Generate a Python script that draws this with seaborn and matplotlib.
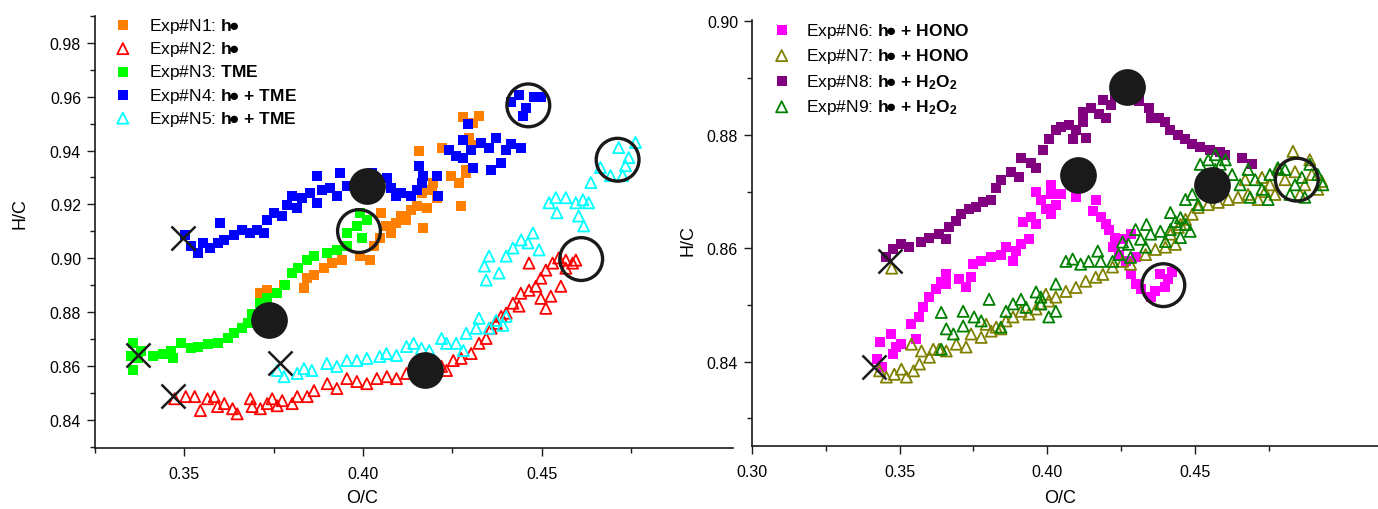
import matplotlib
matplotlib.use("Agg")
import matplotlib.pyplot as plt
import seaborn as sns
from matplotlib.ticker import FixedLocator, FormatStrFormatter

# ── Left panel data (O/C, H/C) ───────────────────────────────────────────────
n1_x = [0.3713, 0.3732, 0.3780, 0.3835, 0.3863, 0.3844, 0.3891, 0.3913, 0.3941, 0.3991,
        0.4019, 0.4030, 0.4047, 0.4066, 0.4052, 0.4080, 0.4094, 0.4108, 0.4122, 0.4136,
        0.4150, 0.4164, 0.4178, 0.4169, 0.4192, 0.4158, 0.4197, 0.4208, 0.4220, 0.4247,
        0.4270, 0.4289, 0.4275, 0.4281, 0.4309, 0.4325, 0.4298, 0.4303, 0.4281, 0.4289]
n1_y = [0.8870, 0.8881, 0.8900, 0.8889, 0.8937, 0.8926, 0.8963, 0.8982, 0.8993, 0.9008,
        0.8993, 0.9046, 0.9075, 0.9120, 0.9169, 0.9094, 0.9131, 0.9157, 0.9143, 0.9180,
        0.9195, 0.9243, 0.9187, 0.9113, 0.9254, 0.9400, 0.9281, 0.9225, 0.9411, 0.9307,
        0.9281, 0.9329, 0.9195, 0.9523, 0.9504, 0.9530, 0.9448, 0.9419, 0.9374, 0.9318]

n2_x = [0.3473, 0.3504, 0.3529, 0.3565, 0.3584, 0.3545, 0.3593, 0.3612, 0.3635, 0.3648,
        0.3685, 0.3690, 0.3713, 0.3732, 0.3746, 0.3760, 0.3774, 0.3802, 0.3816, 0.3844,
        0.3863, 0.3900, 0.3927, 0.3955, 0.3983, 0.4011, 0.4039, 0.4067, 0.4094, 0.4122,
        0.4150, 0.4220, 0.4234, 0.4253, 0.4275, 0.4303, 0.4325, 0.4345, 0.4359, 0.4373,
        0.4387, 0.4401, 0.4420, 0.4437, 0.4442, 0.4465, 0.4484, 0.4498, 0.4512, 0.4531,
        0.4548, 0.4568, 0.4568, 0.4596, 0.4465, 0.4498, 0.4512, 0.4526, 0.4554, 0.4587]
n2_y = [0.8478, 0.8486, 0.8486, 0.8478, 0.8486, 0.8434, 0.8449, 0.8460, 0.8441, 0.8422,
        0.8478, 0.8449, 0.8441, 0.8460, 0.8478, 0.8452, 0.8471, 0.8460, 0.8486, 0.8486,
        0.8508, 0.8534, 0.8516, 0.8553, 0.8542, 0.8534, 0.8553, 0.8560, 0.8553, 0.8572,
        0.8583, 0.8598, 0.8583, 0.8620, 0.8628, 0.8646, 0.8684, 0.8702, 0.8740, 0.8758,
        0.8784, 0.8796, 0.8833, 0.8822, 0.8870, 0.8881, 0.8896, 0.8926, 0.8956, 0.8982,
        0.9001, 0.8993, 0.8963, 0.8993, 0.8982, 0.8851, 0.8814, 0.8859, 0.8896, 0.8982]

n3_x = [0.3356, 0.3370, 0.3356, 0.3378, 0.3350, 0.3412, 0.3440, 0.3462, 0.3467, 0.3490,
        0.3518, 0.3537, 0.3565, 0.3593, 0.3621, 0.3640, 0.3662, 0.3679, 0.3690, 0.3713,
        0.3732, 0.3760, 0.3782, 0.3802, 0.3818, 0.3843, 0.3863, 0.3899, 0.3927, 0.3955,
        0.3955, 0.3983, 0.3997, 0.4011, 0.3991]
n3_y = [0.8684, 0.8628, 0.8583, 0.8657, 0.8635, 0.8635, 0.8643, 0.8657, 0.8628, 0.8684,
        0.8665, 0.8672, 0.8680, 0.8684, 0.8702, 0.8721, 0.8740, 0.8758, 0.8792, 0.8833,
        0.8851, 0.8870, 0.8900, 0.8945, 0.8963, 0.8993, 0.9008, 0.9019, 0.9031, 0.9046,
        0.9094, 0.9120, 0.9075, 0.9143, 0.9169]

n4_x = [0.3501, 0.3518, 0.3537, 0.3551, 0.3573, 0.3593, 0.3612, 0.3601, 0.3640, 0.3662,
        0.3685, 0.3704, 0.3724, 0.3732, 0.3752, 0.3774, 0.3788, 0.3802, 0.3816, 0.3830,
        0.3852, 0.3871, 0.3885, 0.3871, 0.3908, 0.3927, 0.3955, 0.3936, 0.4025, 0.4067,
        0.4080, 0.4094, 0.4108, 0.4136, 0.4150, 0.4158, 0.4169, 0.4164, 0.4206, 0.4209,
        0.4242, 0.4261, 0.4281, 0.4303, 0.4309, 0.4281, 0.4295, 0.4331, 0.4353, 0.4373,
        0.4401, 0.4415, 0.4387, 0.4443, 0.4359, 0.4415, 0.4437, 0.4456, 0.4479, 0.4498,
        0.4448]
n4_y = [0.9087, 0.9046, 0.9019, 0.9057, 0.9038, 0.9057, 0.9068, 0.9131, 0.9087, 0.9105,
        0.9094, 0.9105, 0.9094, 0.9143, 0.9169, 0.9157, 0.9199, 0.9232, 0.9187, 0.9225,
        0.9243, 0.9206, 0.9254, 0.9307, 0.9262, 0.9232, 0.9269, 0.9318, 0.9318, 0.9299,
        0.9262, 0.9232, 0.9243, 0.9232, 0.9254, 0.9344, 0.9307, 0.9281, 0.9307, 0.9232,
        0.9404, 0.9381, 0.9374, 0.9404, 0.9337, 0.9441, 0.9497, 0.9430, 0.9411, 0.9448,
        0.9404, 0.9426, 0.9355, 0.9411, 0.9329, 0.9579, 0.9605, 0.9560, 0.9598, 0.9598,
        0.9530]

n5_x = [0.3760, 0.3779, 0.3816, 0.3835, 0.3857, 0.3899, 0.3927, 0.3955, 0.3983, 0.4011,
        0.4047, 0.4066, 0.4094, 0.4122, 0.4142, 0.4164, 0.4186, 0.4220, 0.4234, 0.4261,
        0.4289, 0.4317, 0.4325, 0.4281, 0.4353, 0.4373, 0.4392, 0.4401, 0.4340, 0.4345,
        0.4381, 0.4401, 0.4420, 0.4443, 0.4462, 0.4476, 0.4493, 0.4353, 0.4521, 0.4543,
        0.4568, 0.4596, 0.4616, 0.4632, 0.4604, 0.4618, 0.4540, 0.4638, 0.4665, 0.4693,
        0.4727, 0.4716, 0.4735, 0.4763, 0.4744]
n5_y = [0.8583, 0.8560, 0.8572, 0.8590, 0.8583, 0.8609, 0.8598, 0.8620, 0.8620, 0.8628,
        0.8635, 0.8646, 0.8639, 0.8672, 0.8684, 0.8665, 0.8657, 0.8702, 0.8684, 0.8684,
        0.8721, 0.8740, 0.8777, 0.8657, 0.8740, 0.8769, 0.8751, 0.8784, 0.8971, 0.8919,
        0.8945, 0.9008, 0.9038, 0.9068, 0.9057, 0.9094, 0.9031, 0.9008, 0.9206, 0.9169,
        0.9225, 0.9206, 0.9217, 0.9206, 0.9157, 0.9120, 0.9225, 0.9281, 0.9337, 0.9307,
        0.9307, 0.9411, 0.9344, 0.9430, 0.9374]

# start (x), turning (filled) and end (open) points, left panel
left_start_x = [0.3496, 0.3370, 0.3467, 0.3769]
left_start_y = [0.9075, 0.8639, 0.8490, 0.8609]
left_mid_x = [0.3738, 0.4011, 0.4173]
left_mid_y = [0.8769, 0.9269, 0.8583]
left_end_x = [0.3989, 0.4463, 0.4713, 0.4611]
left_end_y = [0.9101, 0.9568, 0.9366, 0.8997]

# ── Right panel data ─────────────────────────────────────────────────────────
n6_x = [0.3422, 0.3439, 0.3432, 0.3472, 0.3489, 0.3479, 0.3506, 0.3557, 0.3540, 0.3567,
        0.3580, 0.3601, 0.3624, 0.3641, 0.3658, 0.3658, 0.3702, 0.3725, 0.3742, 0.3749,
        0.3776, 0.3810, 0.3843, 0.3860, 0.3894, 0.3884, 0.3911, 0.3938, 0.3918, 0.3945,
        0.3962, 0.3978, 0.3995, 0.4012, 0.4029, 0.3962, 0.4012, 0.4046, 0.4012, 0.4097,
        0.4164, 0.4154, 0.4181, 0.4198, 0.4208, 0.4231, 0.4221, 0.4255, 0.4282, 0.4242,
        0.4265, 0.4299, 0.4282, 0.4299, 0.4316, 0.4350, 0.4366, 0.4383, 0.4410, 0.4424,
        0.4400]
n6_y = [0.8405, 0.8391, 0.8435, 0.8449, 0.8426, 0.8414, 0.8431, 0.8440, 0.8466, 0.8479,
        0.8496, 0.8514, 0.8528, 0.8540, 0.8554, 0.8537, 0.8545, 0.8531, 0.8549, 0.8572,
        0.8577, 0.8584, 0.8589, 0.8602, 0.8595, 0.8577, 0.8607, 0.8616, 0.8647, 0.8655,
        0.8642, 0.8686, 0.8669, 0.8695, 0.8677, 0.8700, 0.8712, 0.8695, 0.8660, 0.8690,
        0.8686, 0.8665, 0.8655, 0.8642, 0.8633, 0.8619, 0.8602, 0.8616, 0.8625, 0.8589,
        0.8577, 0.8584, 0.8554, 0.8537, 0.8528, 0.8514, 0.8524, 0.8554, 0.8545, 0.8559,
        0.8531]

n7_x = [0.3432, 0.3455, 0.3482, 0.3506, 0.3523, 0.3547, 0.3567, 0.3540, 0.3574, 0.3601,
        0.3614, 0.3634, 0.3658, 0.3692, 0.3725, 0.3742, 0.3776, 0.3810, 0.3843, 0.3793,
        0.3827, 0.3860, 0.3884, 0.3911, 0.3938, 0.3962, 0.3978, 0.4005, 0.4029, 0.3995,
        0.4063, 0.4097, 0.4130, 0.4164, 0.4188, 0.4221, 0.4255, 0.4282, 0.4333, 0.4366,
        0.4400, 0.4434, 0.4417, 0.4444, 0.4468, 0.4491, 0.4451, 0.4511, 0.4545, 0.4579,
        0.4613, 0.4646, 0.4680, 0.4714, 0.4737, 0.4771, 0.4754, 0.4670, 0.4727, 0.4781,
        0.4805, 0.4839, 0.4856, 0.4872, 0.4896, 0.4916, 0.4930, 0.4889, 0.4832, 0.3473]
n7_y = [0.8384, 0.8373, 0.8378, 0.8387, 0.8373, 0.8384, 0.8396, 0.8431, 0.8419, 0.8408,
        0.8422, 0.8422, 0.8419, 0.8431, 0.8426, 0.8449, 0.8443, 0.8454, 0.8458, 0.8466,
        0.8461, 0.8472, 0.8479, 0.8489, 0.8484, 0.8493, 0.8502, 0.8507, 0.8514, 0.8519,
        0.8524, 0.8531, 0.8542, 0.8549, 0.8554, 0.8567, 0.8577, 0.8572, 0.8589, 0.8598,
        0.8602, 0.8607, 0.8625, 0.8637, 0.8651, 0.8660, 0.8642, 0.8672, 0.8677, 0.8681,
        0.8686, 0.8690, 0.8695, 0.8686, 0.8700, 0.8695, 0.8712, 0.8721, 0.8725, 0.8739,
        0.8721, 0.8735, 0.8695, 0.8712, 0.8730, 0.8704, 0.8718, 0.8756, 0.8771, 0.8565]

n8_x = [0.3455, 0.3479, 0.3506, 0.3533, 0.3574, 0.3601, 0.3634, 0.3658, 0.3668, 0.3692,
        0.3709, 0.3735, 0.3759, 0.3783, 0.3810, 0.3827, 0.3843, 0.3877, 0.3904, 0.3911,
        0.3945, 0.3962, 0.3985, 0.4005, 0.4029, 0.4046, 0.4073, 0.4097, 0.4120, 0.4130,
        0.4086, 0.4120, 0.4147, 0.4174, 0.4198, 0.4215, 0.4231, 0.4188, 0.4309, 0.4343,
        0.4350, 0.4377, 0.4400, 0.4417, 0.4444, 0.4468, 0.4491, 0.4518, 0.4552, 0.4586,
        0.4603, 0.4660, 0.4694]
n8_y = [0.8584, 0.8598, 0.8607, 0.8602, 0.8611, 0.8619, 0.8625, 0.8616, 0.8637, 0.8648,
        0.8660, 0.8669, 0.8672, 0.8681, 0.8686, 0.8707, 0.8721, 0.8735, 0.8725, 0.8760,
        0.8751, 0.8742, 0.8774, 0.8792, 0.8809, 0.8813, 0.8818, 0.8809, 0.8823, 0.8795,
        0.8792, 0.8841, 0.8848, 0.8836, 0.8830, 0.8853, 0.8871, 0.8862, 0.8859, 0.8848,
        0.8830, 0.8830, 0.8823, 0.8809, 0.8800, 0.8792, 0.8783, 0.8778, 0.8774, 0.8769,
        0.8765, 0.8760, 0.8748]

n9_x = [0.3641, 0.3658, 0.3682, 0.3641, 0.3715, 0.3715, 0.3752, 0.3776, 0.3803, 0.3843,
        0.3860, 0.3884, 0.3911, 0.3928, 0.3962, 0.3978, 0.4005, 0.4029, 0.4029, 0.3978,
        0.4063, 0.4086, 0.4113, 0.4140, 0.4171, 0.4181, 0.4221, 0.4242, 0.4255, 0.4275,
        0.4282, 0.4316, 0.4333, 0.4350, 0.4299, 0.4336, 0.4400, 0.4417, 0.4434, 0.4451,
        0.4468, 0.4484, 0.4383, 0.4417, 0.4451, 0.4468, 0.4491, 0.4511, 0.4518, 0.4545,
        0.4569, 0.4569, 0.4586, 0.4603, 0.4626, 0.4653, 0.4680, 0.4704, 0.4727, 0.4754,
        0.4781, 0.4748, 0.4687, 0.4805, 0.4839, 0.4862, 0.4889, 0.4916, 0.4933, 0.4872,
        0.4822]
n9_y = [0.8422, 0.8458, 0.8449, 0.8487, 0.8489, 0.8463, 0.8479, 0.8472, 0.8510, 0.8461,
        0.8489, 0.8502, 0.8510, 0.8496, 0.8523, 0.8502, 0.8479, 0.8489, 0.8537, 0.8514,
        0.8577, 0.8581, 0.8572, 0.8577, 0.8595, 0.8577, 0.8577, 0.8589, 0.8611, 0.8607,
        0.8584, 0.8616, 0.8602, 0.8625, 0.8633, 0.8642, 0.8612, 0.8633, 0.8647, 0.8619,
        0.8642, 0.8630, 0.8630, 0.8663, 0.8654, 0.8686, 0.8695, 0.8677, 0.8748, 0.8756,
        0.8739, 0.8765, 0.8748, 0.8756, 0.8730, 0.8712, 0.8739, 0.8721, 0.8704, 0.8730,
        0.8742, 0.8686, 0.8690, 0.8739, 0.8712, 0.8725, 0.8748, 0.8730, 0.8712, 0.8690,
        0.8695]

right_start_x = [0.3466, 0.3412]
right_start_y = [0.8577, 0.8391]
right_mid_x = [0.4269, 0.4103, 0.4559]
right_mid_y = [0.8885, 0.8730, 0.8711]
right_end_x = [0.4393, 0.4845]
right_end_y = [0.8535, 0.8721]

HV = r"$\mathbf{h}\!$●"
labels_left = ["Exp#N1: " + HV, "Exp#N2: " + HV, r"Exp#N3: $\mathbf{TME}$",
               "Exp#N4: " + HV + r" $\mathbf{+\ TME}$", "Exp#N5: " + HV + r" $\mathbf{+\ TME}$"]
labels_right = ["Exp#N6: " + HV + r" $\mathbf{+\ HONO}$", "Exp#N7: " + HV + r" $\mathbf{+\ HONO}$",
                "Exp#N8: " + HV + r" $\mathbf{+\ H_2O_2}$", "Exp#N9: " + HV + r" $\mathbf{+\ H_2O_2}$"]

sns.set_theme(style="ticks")
plt.rcParams["font.family"] = ["Liberation Sans", "DejaVu Sans"]
plt.rcParams["mathtext.fontset"] = "custom"
plt.rcParams["mathtext.rm"] = "Liberation Sans"
plt.rcParams["mathtext.bf"] = "Liberation Sans:bold"
plt.rcParams["mathtext.it"] = "Liberation Sans:italic"
for k in ("text.color", "axes.labelcolor", "xtick.color", "ytick.color", "axes.edgecolor"):
    plt.rcParams[k] = "black"

fig = plt.figure(figsize=(13.78, 5.10), dpi=100)
ax1 = fig.add_axes([95 / 1378, 1 - 449 / 510, 638 / 1378, 432 / 510])
ax2 = fig.add_axes([752 / 1378, 1 - 446.7 / 510, 626 / 1378, 426 / 510])


def squares(ax, x, y, col, lab):
    sns.scatterplot(x=x, y=y, ax=ax, marker="s", s=48, color=col, edgecolor=col,
                    linewidth=0, label=lab)


def triangles(ax, x, y, col, lab):
    sns.scatterplot(x=x, y=y, ax=ax, marker="^", s=64, facecolor="none", edgecolor=col,
                    linewidth=1.3, label=lab)


def markers(ax, sx, sy, mx, my, ex, ey):
    sns.scatterplot(x=mx, y=my, ax=ax, marker="o", s=700, color="k", edgecolor="k", linewidth=0, zorder=5)
    sns.scatterplot(x=ex, y=ey, ax=ax, marker="o", s=950, facecolor="none", edgecolor="k",
                    linewidth=2.4, zorder=5)
    sns.scatterplot(x=sx, y=sy, ax=ax, marker="x", s=300, color="k", edgecolor="k",
                    linewidth=1.8, zorder=6)


squares(ax1, n1_x, n1_y, "#FF8000", labels_left[0])
triangles(ax1, n2_x, n2_y, "#FF0000", labels_left[1])
squares(ax1, n3_x, n3_y, "#00FF00", labels_left[2])
squares(ax1, n4_x, n4_y, "#0000FF", labels_left[3])
triangles(ax1, n5_x, n5_y, "#00FFFF", labels_left[4])
markers(ax1, left_start_x, left_start_y, left_mid_x, left_mid_y, left_end_x, left_end_y)

squares(ax2, n6_x, n6_y, "#FF00FF", labels_right[0])
triangles(ax2, n7_x, n7_y, "#808000", labels_right[1])
squares(ax2, n8_x, n8_y, "#800080", labels_right[2])
triangles(ax2, n9_x, n9_y, "#008000", labels_right[3])
markers(ax2, right_start_x, right_start_y, right_mid_x, right_mid_y, right_end_x, right_end_y)

ax1.set_xlim(0.325, 0.5036)
ax1.set_ylim(0.8295, 0.990)
ax2.set_xlim(0.30, 0.512)
ax2.set_ylim(0.8252, 0.9003)

ax1.xaxis.set_major_locator(FixedLocator([0.35, 0.40, 0.45]))
ax1.xaxis.set_minor_locator(FixedLocator([0.325, 0.375, 0.425, 0.475]))
ax1.yaxis.set_major_locator(FixedLocator([0.84, 0.86, 0.88, 0.90, 0.92, 0.94, 0.96, 0.98]))
ax1.yaxis.set_minor_locator(FixedLocator([0.83, 0.85, 0.87, 0.89, 0.91, 0.93, 0.95, 0.97, 0.99]))
ax2.xaxis.set_major_locator(FixedLocator([0.30, 0.35, 0.40, 0.45]))
ax2.xaxis.set_minor_locator(FixedLocator([0.325, 0.375, 0.425, 0.475]))
ax2.yaxis.set_major_locator(FixedLocator([0.84, 0.86, 0.88, 0.90]))
ax2.yaxis.set_minor_locator(FixedLocator([0.83, 0.85, 0.87, 0.89]))

for ax in (ax1, ax2):
    ax.xaxis.set_major_formatter(FormatStrFormatter("%.2f"))
    ax.yaxis.set_major_formatter(FormatStrFormatter("%.2f"))
    ax.tick_params(which="major", direction="out", length=6, width=1, labelsize=11.5, pad=4, color="k")
    ax.tick_params(which="minor", direction="out", length=3.5, width=1, color="k")
    ax.tick_params(axis="x", which="major", pad=7)
    sns.despine(ax=ax)
    for sp in ("left", "bottom"):
        ax.spines[sp].set_linewidth(1.2)
        ax.spines[sp].set_color("k")
    ax.set_xlabel("O/C", fontsize=13)
    ax.set_ylabel("H/C", fontsize=13)

ax1.xaxis.set_label_coords(0.418, -0.095)
ax1.yaxis.set_label_coords(-0.105, 0.544)
ax2.xaxis.set_label_coords(0.492, -0.101)
ax2.yaxis.set_label_coords(-0.088, 0.483)

ax1.legend(loc="upper left", bbox_to_anchor=(0.030, 1.0), frameon=False, fontsize=12.5,
           handlelength=1.0, handletextpad=1.0, labelspacing=0.24, borderpad=0, borderaxespad=0)
ax2.legend(loc="upper left", bbox_to_anchor=(0.0335, 0.998), frameon=False, fontsize=12.5,
           handlelength=1.0, handletextpad=0.9, labelspacing=0.38, borderpad=0, borderaxespad=0)

plt.savefig("out.png", dpi=100)
plt.close()
